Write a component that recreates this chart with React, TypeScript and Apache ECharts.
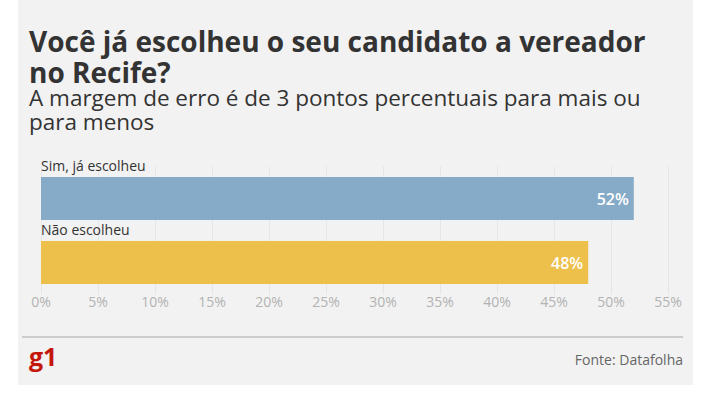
import React, { useEffect, useRef } from "react";
import * as echarts from "echarts";

const categories = ["Sim, já escolheu", "Não escolheu"];
const values = [52, 48];
const barColors = ["#86abc8", "#edbf4b"];
const tickMax = 55;
const tickStep = 5;
const titleLines = ["Você já escolheu o seu candidato a vereador", "no Recife?"];
const subtitleLines = ["A margem de erro é de 3 pontos percentuais para mais ou", "para menos"];
const sourceText = "Fonte: Datafolha";
const logoText = "g1";

const FONT = "'Open Sans', sans-serif";

export default function App() {
  const ref = useRef<HTMLDivElement>(null);
  useEffect(() => {
    if (!ref.current) return;
    const chart = echarts.init(ref.current, undefined, { renderer: "svg" });
    const titles = [
      ...titleLines.map((t, i) => ({
        text: t,
        left: 29,
        top: 26 + i * 31,
        padding: 0,
        textStyle: { fontFamily: FONT, fontSize: 28, fontWeight: "bold", color: "#333333", lineHeight: 29 },
      })),
      ...subtitleLines.map((t, i) => ({
        text: t,
        left: 29,
        top: 87 + i * 24,
        padding: 0,
        textStyle: { fontFamily: FONT, fontSize: 22.5, fontWeight: "normal", color: "#333333", lineHeight: 20 },
      })),
    ];
    chart.setOption({
      animation: false,
      backgroundColor: "#ffffff",
      textStyle: { fontFamily: FONT },
      graphic: [
        { type: "rect", z: -10, shape: { x: 18, y: 0, width: 675, height: 385 }, style: { fill: "#f2f2f2" } },
        { type: "line", shape: { x1: 22, y1: 337, x2: 683, y2: 337 }, style: { stroke: "#cccccc", lineWidth: 2 } },
        { type: "text", left: 29, top: 343, style: { text: logoText, fill: "#c4170c", font: "bold 25px " + FONT } },
        { type: "text", right: 24, top: 352, style: { text: sourceText, fill: "#666666", font: "14px " + FONT } },
      ],
      title: titles,
      grid: { left: 41, right: 39, top: 166.5, height: 128, containLabel: false },
      xAxis: {
        type: "value",
        min: 0,
        max: tickMax,
        interval: tickStep,
        axisLine: { show: false },
        axisTick: { show: false },
        splitLine: { show: true, lineStyle: { color: "#e6e6e6", width: 1 } },
        axisLabel: { formatter: "{value}%", color: "#b3b3b3", fontSize: 14, fontFamily: FONT, margin: 0, verticalAlign: "top" },
      },
      yAxis: {
        type: "category",
        data: categories,
        inverse: true,
        show: false,
      },
      series: [
        {
          type: "bar",
          data: values.map((v, i) => ({ value: v, itemStyle: { color: barColors[i] } })),
          barWidth: 43,
          label: {
            show: true,
            position: "insideRight",
            distance: 5,
            formatter: "{c}%",
            color: "#ffffff",
            fontSize: 16,
            fontFamily: FONT,
            fontWeight: 600,
          },
          z: 2,
        },
        {
          type: "bar",
          data: values,
          barWidth: 43,
          barGap: "-100%",
          itemStyle: { color: "rgba(0,0,0,0)" },
          label: {
            show: true,
            position: [0, -19],
            formatter: "{b}",
            color: "#333333",
            fontSize: 14,
            fontFamily: FONT,
          },
          z: 3,
        },
      ],
    });
    return () => chart.dispose();
  }, []);
  return <div ref={ref} style={{ position: "fixed", left: 0, top: 0, width: 707, height: 399 }} />;
}
